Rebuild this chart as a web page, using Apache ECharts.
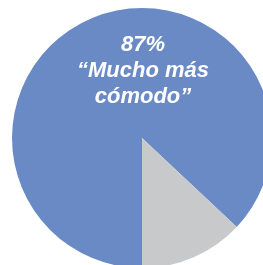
<!DOCTYPE html>
<html>
<head>
<meta charset="utf-8">
<script src="https://cdn.jsdelivr.net/npm/echarts@6/dist/echarts.min.js"></script>
<style>
  html, body { margin: 0; padding: 0; background: #fff; }
  #main { width: 263px; height: 265px; }
</style>
</head>
<body>
<div id="main"></div>
<script>
var categories = ['Mucho más cómodo', 'Otro'];
var values = [87, 13];
var colors = ['#6a8ac6', '#c8c9cb'];
var labelLines = ['87%', '“Mucho más', 'cómodo”'];

var myChart = echarts.init(document.getElementById('main'));

var option = {
    animation: false,
    color: colors,
    graphic: [{
        type: 'text',
        x: 143,
        y: 71,
        z: 10,
        style: {
            text: labelLines.join('\n'),
            fill: '#fff',
            font: 'italic bold 22px "Liberation Sans", Arial, sans-serif',
            lineHeight: 26,
            align: 'center',
            verticalAlign: 'middle'
        }
    }],
    series: [{
        type: 'pie',
        center: [142, 138],
        radius: 130,
        startAngle: 270,
        clockwise: true,
        label: { show: false },
        labelLine: { show: false },
        emphasis: { disabled: true },
        data: categories.map(function (name, i) {
            return { name: name, value: values[i] };
        })
    }]
};

myChart.setOption(option);
</script>
</body>
</html>
